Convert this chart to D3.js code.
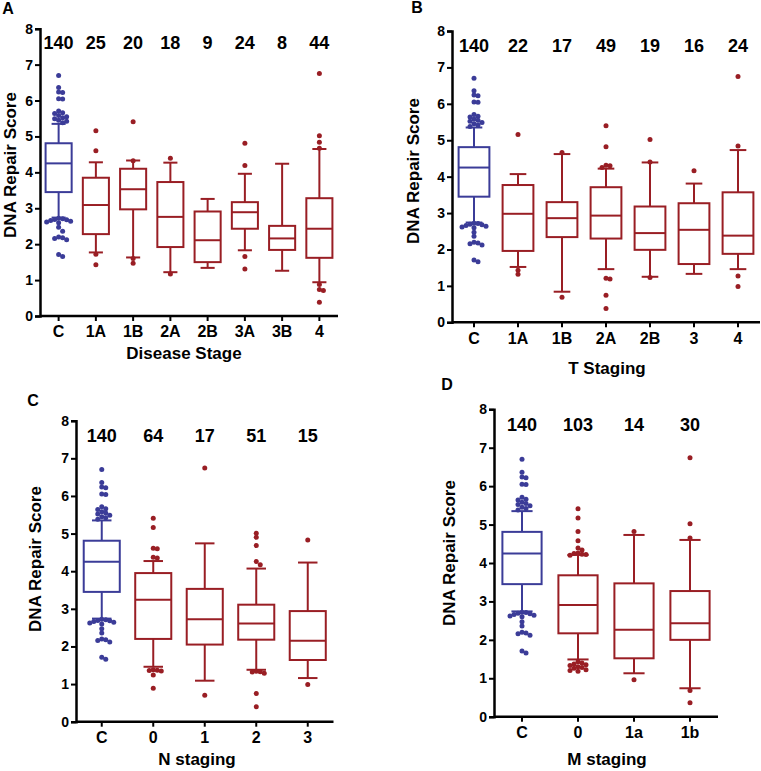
<!DOCTYPE html>
<html><head><meta charset="utf-8">
<script src="https://cdn.jsdelivr.net/npm/d3@7"></script>
<style>
body{margin:0;background:#fff}
text{font-family:Arial,"Liberation Sans",sans-serif;font-weight:bold;fill:#000}
</style>
</head><body>
<svg id="chart" width="761" height="771"></svg>
<script>
const BLUE = "#3b3c98", RED = "#991e24";
const yTicks = [0,1,2,3,4,5,6,7,8];

// Control group (same in every panel)
const ctrlOut = [6.7,6.36,6.24,6.22,6.05,6.04,5.71,5.66,5.64,5.58,5.55,5.52,5.49,5.45,5.42,5.38,
                 2.72,2.71,2.69,2.68,2.66,2.64,2.62,2.6,2.47,2.36,2.2,2.18,2.16,2.12,1.71,1.66];

// Panel A: Disease Stage
const catsA = ["C","1A","1B","2A","2B","3A","3B","4"];
const nA    = [140,25,20,18,9,24,8,44];
const loA   = [2.74,1.77,1.63,1.22,1.34,1.83,1.26,0.94];
const q1A   = [3.45,2.28,2.97,1.92,1.5,2.43,1.84,1.62];
const medA  = [4.25,3.09,3.53,2.76,2.11,2.89,2.16,2.43];
const q3A   = [4.81,3.85,4.1,3.73,2.91,3.17,2.51,3.28];
const hiA   = [5.35,4.28,4.33,4.27,3.26,3.96,4.24,4.65];
const outA  = [ctrlOut,[5.16,4.6,1.72,1.43],[5.41,4.32,1.6,1.47],[4.39,1.17],[],[4.81,4.19,1.66,1.31],[],
               [6.75,5.02,4.84,4.67,0.88,0.74,0.71,0.38]];

// Panel B: T Staging
const catsB = ["C","1A","1B","2A","2B","3","4"];
const nB    = [140,22,17,49,19,16,24];
const loB   = [2.74,1.52,0.84,1.46,1.25,1.33,1.46];
const q1B   = [3.45,1.96,2.34,2.3,1.99,1.6,1.88];
const medB  = [4.25,2.98,2.86,2.93,2.45,2.54,2.38];
const q3B   = [4.81,3.77,3.3,3.71,3.18,3.27,3.57];
const hiB   = [5.35,4.07,4.62,4.22,4.39,3.81,4.73];
const outB  = [ctrlOut,[5.16,1.43,1.32],[4.66,0.69],[5.4,4.82,4.31,4.3,4.25,1.21,1.19,0.74,0.38],
               [5.02,4.4,1.23],[4.16],[6.75,4.84,1.27,0.98]];

// Panel C: N staging
const catsC = ["C","0","1","2","3"];
const nC    = [140,64,17,51,15];
const loC   = [2.74,1.46,1.09,1.38,1.16];
const q1C   = [3.45,2.2,2.05,2.18,1.64];
const medC  = [4.25,3.24,2.72,2.61,2.15];
const q3C   = [4.81,3.95,3.53,3.11,2.94];
const hiC   = [5.35,4.27,4.74,4.07,4.23];
const outC  = [ctrlOut,[5.41,5.16,4.61,4.6,4.37,4.35,1.38,1.37,1.36,1.35,1.24,0.89],[6.74,0.7],
               [5.01,4.9,4.68,4.26,4.17,1.34,1.33,1.32,1.29,0.75,0.4],[4.83,0.99]];

// Panel D: M staging
const catsD = ["C","0","1a","1b"];
const nD    = [140,103,14,30];
const loD   = [2.74,1.49,1.13,0.74];
const q1D   = [3.45,2.17,1.52,2.0];
const medD  = [4.25,2.91,2.26,2.43];
const q3D   = [4.81,3.68,3.47,3.27];
const hiD   = [5.35,4.21,4.73,4.6];
const outD  = [ctrlOut,[5.41,5.17,4.82,4.58,4.39,4.34,4.26,4.25,4.23,4.22,4.2,
                1.43,1.4,1.37,1.35,1.33,1.3,1.28,1.26,1.22,1.2,1.18],[4.82,0.96],[6.74,5.02,4.65,0.68,0.36]];

const svg = d3.select("#chart");

const panels = [
  {letter:"A", lx:8, ly:8, cats:catsA, n:nA, lo:loA, q1:q1A, med:medA, q3:q3A, hi:hiA, out:outA,
   x0:40, x1:338, yTop:28.7, yBot:316, title:"Disease Stage", tx:184, ty:353, yTitleX:10.5, yTitleY:165},
  {letter:"B", lx:417, ly:7, cats:catsB, n:nB, lo:loB, q1:q1B, med:medB, q3:q3B, hi:hiB, out:outB,
   x0:452, x1:760, yTop:31, yBot:322.3, title:"T Staging", tx:607, ty:368, yTitleX:413, yTitleY:171},
  {letter:"C", lx:33, ly:400, cats:catsC, n:nC, lo:loC, q1:q1C, med:medC, q3:q3C, hi:hiC, out:outC,
   x0:76, x1:333.5, yTop:420.7, yBot:721.7, title:"N staging", tx:197, ty:759, yTitleX:35, yTitleY:559},
  {letter:"D", lx:447, ly:384, cats:catsD, n:nD, lo:loD, q1:q1D, med:medD, q3:q3D, hi:hiD, out:outD,
   x0:494, x1:718, yTop:409.3, yBot:716.7, title:"M staging", tx:607, ty:759, yTitleX:449, yTitleY:553}
];

const R = 2.5;
const FONT = "Arial,'Liberation Sans',sans-serif";

function swarm(vals, y) {
  const placed = [];
  const sorted = vals.slice().sort((a,b)=>b-a);
  const step = R*1.6;
  sorted.forEach(v => {
    const py = y(v);
    for (let k = 0; k < 40; k++) {
      const off = (k===0) ? 0 : (k%2 ? 1 : -1) * Math.ceil(k/2) * step;
      const ok = placed.every(p => Math.hypot(p.dx-off, p.py-py) >= 2*R*0.8);
      if (ok) { placed.push({v, py, dx:off}); break; }
    }
  });
  return placed;
}

panels.forEach(p => {
  const g = svg.append("g");
  const x = d3.scaleBand().domain(p.cats).range([p.x0, p.x1]).paddingInner(0.3).paddingOuter(0.15);
  const y = d3.scaleLinear().domain([0,8]).range([p.yBot, p.yTop]);
  const bw = x.bandwidth();

  // panel letter
  g.append("text").attr("x", p.lx).attr("y", p.ly).attr("text-anchor","middle")
    .attr("dominant-baseline","central").style("font-size","16px").text(p.letter);

  // y axis
  const ya = g.append("g").attr("transform", `translate(${p.x0},0)`)
    .call(d3.axisLeft(y).tickValues(yTicks).tickSize(5).tickPadding(2));
  ya.select(".domain").attr("stroke","#000").attr("stroke-width",2.5);
  ya.selectAll(".tick line").attr("stroke","#000").attr("stroke-width",2);
  ya.selectAll(".tick text").style("font-size","14px").style("font-family",FONT).style("font-weight","bold");

  // x axis
  const xa = g.append("g").attr("transform", `translate(0,${p.yBot})`)
    .call(d3.axisBottom(x).tickSize(5).tickPadding(5));
  xa.select(".domain").attr("stroke","#000").attr("stroke-width",2.5)
    .attr("d", `M${p.x0},0H${p.x1}`);
  xa.selectAll(".tick line").attr("stroke","#000").attr("stroke-width",2);
  xa.selectAll(".tick text").style("font-size","16px").style("font-family",FONT).style("font-weight","bold");

  // y title
  g.append("text").attr("transform", `translate(${p.yTitleX},${p.yTitleY}) rotate(-90)`)
    .attr("text-anchor","middle").attr("dominant-baseline","central")
    .style("font-size","17px").text("DNA Repair Score");
  // x title
  g.append("text").attr("x", p.tx).attr("y", p.ty).attr("text-anchor","middle")
    .attr("dominant-baseline","central").style("font-size","17px").text(p.title);

  // counts
  p.cats.forEach((c,i) => {
    g.append("text").attr("x", x(c)+bw/2).attr("y", y(7.6)).attr("text-anchor","middle")
      .attr("dominant-baseline","central").style("font-size","18px").text(p.n[i]);
  });

  // boxes
  p.cats.forEach((c,i) => {
    const col = i===0 ? BLUE : RED;
    const cx = x(c)+bw/2;
    const bg = g.append("g").attr("stroke", col).attr("stroke-width",2).attr("fill","none");
    bg.append("line").attr("x1",cx).attr("x2",cx).attr("y1",y(p.hi[i])).attr("y2",y(p.q3[i]));
    bg.append("line").attr("x1",cx).attr("x2",cx).attr("y1",y(p.q1[i])).attr("y2",y(p.lo[i]));
    bg.append("line").attr("x1",cx-bw*0.27).attr("x2",cx+bw*0.27).attr("y1",y(p.hi[i])).attr("y2",y(p.hi[i]));
    bg.append("line").attr("x1",cx-bw*0.27).attr("x2",cx+bw*0.27).attr("y1",y(p.lo[i])).attr("y2",y(p.lo[i]));
    bg.append("rect").attr("x",x(c)).attr("width",bw).attr("y",y(p.q3[i])).attr("height",y(p.q1[i])-y(p.q3[i]));
    bg.append("line").attr("x1",x(c)).attr("x2",x(c)+bw).attr("y1",y(p.med[i])).attr("y2",y(p.med[i]));

    const pts = swarm(p.out[i], y);
    g.selectAll(null).data(pts).enter().append("circle")
      .attr("cx", d => cx + d.dx).attr("cy", d => d.py).attr("r", R).attr("fill", col);
  });
});
</script>
</body></html>
